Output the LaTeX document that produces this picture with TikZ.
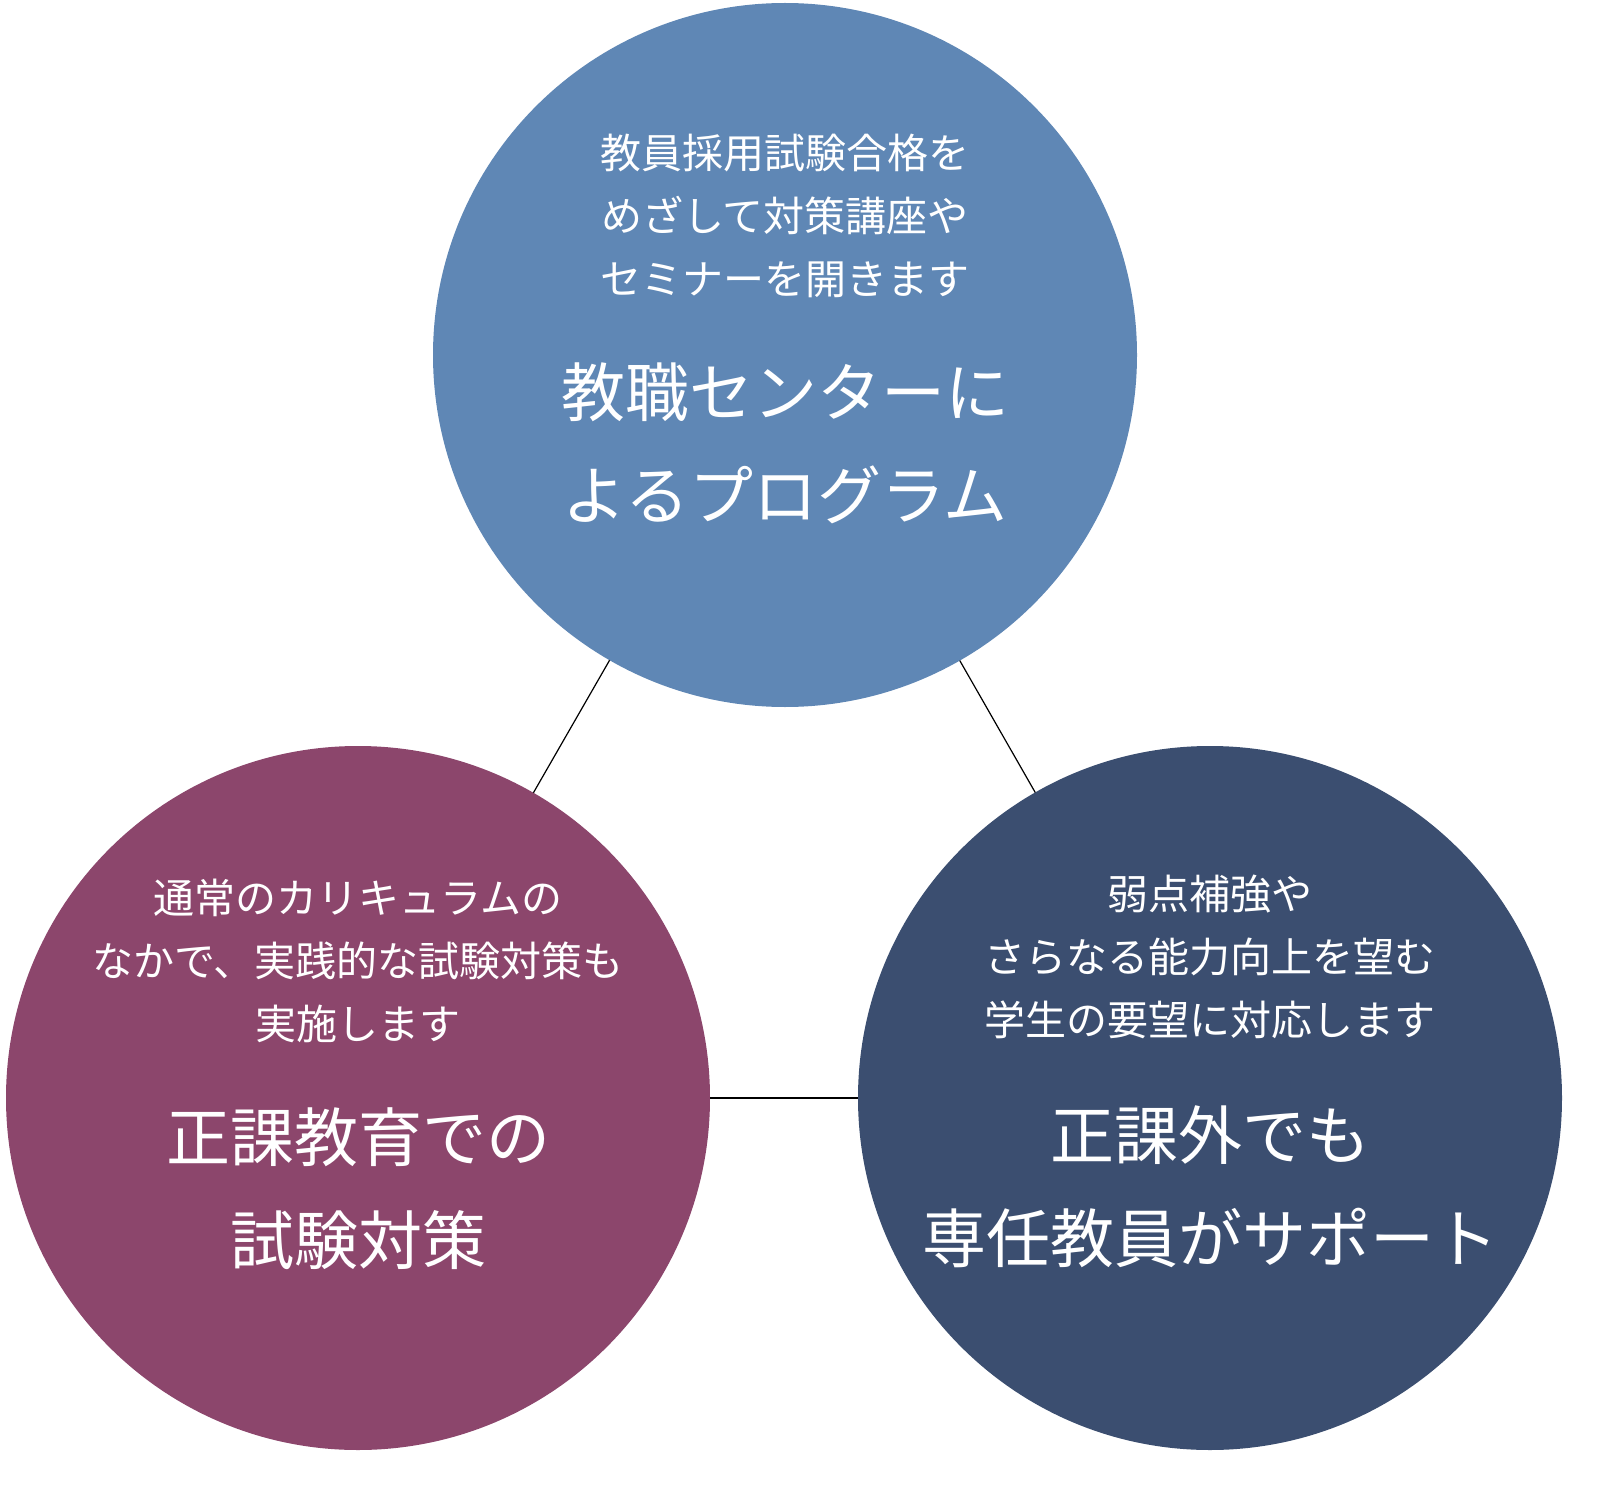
\documentclass[tikz,border=0pt]{standalone}
\usepackage{fontspec}
\setmainfont{Noto Sans CJK JP}
\begin{document}
\begin{tikzpicture}[x=1pt,y=-1pt,
  circ/.style={circle,minimum size=704pt,inner sep=0pt,outer sep=0pt},
  small/.style={text=white,font=\fontsize{41}{63}\selectfont,align=center,inner sep=0pt},
  big/.style={text=white,font=\fontsize{64}{103}\selectfont,align=center,inner sep=0pt}]
\node[circ,fill={rgb,255:red,95;green,135;blue,181}] (top) at (785,355) {};
\node[circ,fill={rgb,255:red,140;green,70;blue,108}] (left) at (358,1098) {};
\node[circ,fill={rgb,255:red,59;green,78;blue,112}] (right) at (1210,1098) {};
\draw[line width=1.2pt] (top) -- (left);
\draw[line width=1.2pt] (top) -- (right);
\draw[line width=1.2pt] (left) -- (right);
\node[small] (t1) at (785,216) {教員採用試験合格を\\めざして対策講座や\\セミナーを開きます};
\node[big] (t2) at (785,443) {教職センターに\\よるプログラム};
\node[small] (l1) at (358,961) {通常のカリキュラムの\\なかで、実践的な試験対策も\\実施します};
\node[big] (l2) at (358,1189) {正課教育での\\試験対策};
\node[small] (r1) at (1210,957) {弱点補強や\\さらなる能力向上を望む\\学生の要望に対応します};
\node[big] (r2) at (1210,1187) {正課外でも\\専任教員がサポート};
\pgfresetboundingbox
\useasboundingbox (0,0) rectangle (1623,1506);
\end{tikzpicture}
\end{document}
